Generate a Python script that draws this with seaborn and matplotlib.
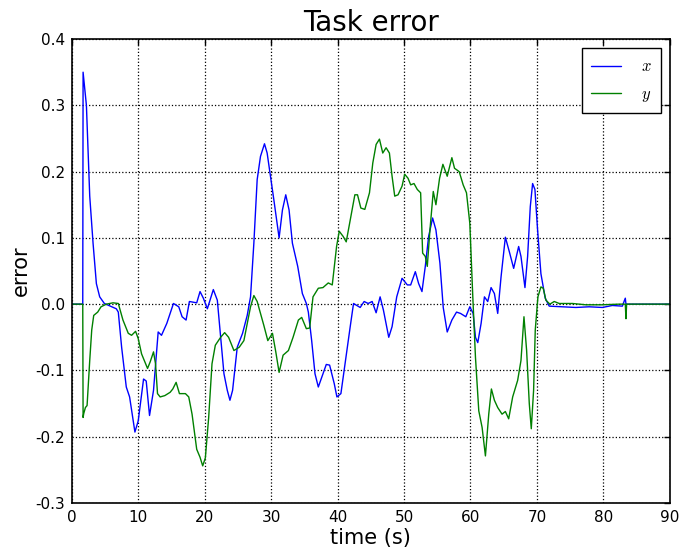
import numpy as np
import pandas as pd
import matplotlib
matplotlib.use("Agg")
import matplotlib.pyplot as plt
import seaborn as sns

# tempo (s) e erro da tarefa
t_x = [0, 1.65, 1.7, 2.2, 2.7, 3.2, 3.7, 4.2, 4.9, 6.7,
       7.0, 7.5, 8.2, 8.7, 9.5, 10.0, 10.8, 11.2, 11.7, 12.3,
       13.0, 13.5, 14.3, 15.3, 16.1, 16.6, 17.2, 17.7, 18.8, 19.3,
       19.8, 20.4, 21.3, 21.9, 22.9, 23.4, 23.8, 24.2, 24.9, 25.7,
       26.4, 26.9, 27.4, 27.9, 28.4, 29.0, 29.4, 29.9, 30.4, 31.2,
       31.7, 32.2, 32.7, 33.2, 34.0, 34.7, 35.3, 35.6, 36.1, 36.6,
       37.1, 37.7, 38.3, 38.8, 39.5, 39.9, 40.5, 41.4, 41.9, 42.4,
       43.4, 44.0, 44.6, 45.2, 45.8, 46.4, 46.9, 47.7, 48.2, 48.9,
       49.7, 50.5, 51.0, 51.7, 52.2, 52.7, 53.2, 53.7, 54.3, 54.8,
       55.4, 55.9, 56.5, 57.2, 57.9, 58.5, 59.3, 59.9, 60.4, 60.75,
       61.1, 61.6, 62.1, 62.6, 63.1, 63.6, 64.1, 64.6, 65.25, 65.85,
       66.5, 67.25, 67.6, 68.2, 68.6, 69.0, 69.35, 69.7, 70.1, 70.6,
       71.25, 71.85, 73.85, 75.85, 77.85, 79.85, 81.35, 82.85, 83.3, 83.4,
       83.5, 90]
err_x = [0, 0, 0.35, 0.30, 0.163, 0.092, 0.031, 0.011, 0.001, -0.007,
         -0.012, -0.065, -0.125, -0.14, -0.193, -0.176, -0.113, -0.116, -0.168, -0.13,
         -0.042, -0.047, -0.029, 0.001, -0.004, -0.019, -0.024, 0.004, 0.002, 0.019,
         0.009, -0.007, 0.022, 0.006, -0.105, -0.13, -0.145, -0.13, -0.065, -0.044,
         -0.017, 0.011, 0.092, 0.188, 0.223, 0.242, 0.228, 0.193, 0.158, 0.1,
         0.142, 0.165, 0.142, 0.092, 0.057, 0.016, 0.001, -0.012, -0.055, -0.105,
         -0.125, -0.108, -0.091, -0.092, -0.12, -0.14, -0.135, -0.07, -0.034, 0.001,
         -0.005, 0.004, 0.001, 0.004, -0.013, 0.011, -0.009, -0.05, -0.034, 0.011,
         0.039, 0.029, 0.029, 0.049, 0.031, 0.019, 0.057, 0.102, 0.13, 0.112,
         0.062, -0.005, -0.042, -0.024, -0.012, -0.014, -0.019, -0.004, -0.014, -0.05,
         -0.058, -0.029, 0.011, 0.004, 0.025, 0.016, -0.014, 0.041, 0.101, 0.079,
         0.054, 0.087, 0.072, 0.025, 0.072, 0.147, 0.182, 0.173, 0.112, 0.046,
         0.009, -0.003, -0.004, -0.005, -0.004, -0.005, -0.002, -0.003, 0.009, 0,
         0, 0]

t_y = [0, 1.65, 1.7, 1.8, 2.05, 2.3, 2.7, 3.0, 3.3, 3.9,
       4.4, 5.2, 6.2, 7.0, 7.7, 8.5, 9.0, 9.6, 10.0, 10.5,
       11.0, 11.4, 11.8, 12.3, 12.6, 12.9, 13.3, 14.0, 14.8, 15.2,
       15.7, 16.2, 17.1, 17.6, 18.1, 18.8, 19.3, 19.7, 20.1, 20.6,
       21.1, 21.6, 22.4, 23.0, 23.6, 24.4, 25.2, 25.9, 26.6, 26.9,
       27.4, 27.9, 28.4, 28.9, 29.5, 30.2, 30.7, 31.2, 31.8, 32.6,
       33.3, 34.1, 34.6, 35.3, 35.8, 36.3, 37.1, 37.8, 38.6, 39.2,
       39.85, 40.25, 40.85, 41.3, 41.9, 42.6, 43.0, 43.5, 44.1, 44.8,
       45.3, 45.8, 46.3, 46.8, 47.3, 47.8, 48.2, 48.6, 49.1, 49.7,
       50.1, 50.6, 51.0, 51.5, 52.0, 52.5, 52.8, 53.2, 53.5, 53.9,
       54.4, 54.8, 55.35, 55.85, 56.5, 57.2, 57.6, 58.3, 58.9, 59.4,
       59.9, 60.35, 60.75, 61.25, 61.75, 62.25, 62.75, 63.15, 63.6, 64.1,
       64.75, 65.25, 65.75, 66.35, 67.1, 67.6, 68.05, 68.45, 68.85, 69.15,
       69.5, 69.75, 70.15, 70.6, 70.95, 71.35, 71.95, 72.6, 73.35, 75.35,
       77.35, 79.85, 82.35, 83.3, 83.4, 83.5, 90]
err_y = [0, 0, -0.171, -0.165, -0.156, -0.153, -0.085, -0.039, -0.017, -0.012,
         -0.004, 0, 0.002, 0.001, -0.024, -0.044, -0.047, -0.041, -0.052, -0.075,
         -0.087, -0.097, -0.087, -0.072, -0.09, -0.135, -0.14, -0.138, -0.133, -0.128,
         -0.118, -0.135, -0.135, -0.14, -0.166, -0.219, -0.231, -0.244, -0.232, -0.171,
         -0.09, -0.062, -0.05, -0.043, -0.05, -0.07, -0.065, -0.055, -0.019, -0.004,
         0.013, 0.004, -0.014, -0.032, -0.055, -0.044, -0.072, -0.103, -0.077, -0.07,
         -0.05, -0.024, -0.02, -0.037, -0.036, 0.011, 0.024, 0.025, 0.032, 0.029,
         0.087, 0.11, 0.102, 0.094, 0.127, 0.165, 0.165, 0.145, 0.143, 0.168,
         0.213, 0.241, 0.249, 0.228, 0.236, 0.228, 0.193, 0.163, 0.165, 0.178,
         0.196, 0.19, 0.18, 0.182, 0.173, 0.168, 0.077, 0.072, 0.057, 0.112,
         0.17, 0.15, 0.19, 0.211, 0.193, 0.221, 0.205, 0.2, 0.18, 0.168,
         0.122, 0.011, -0.08, -0.161, -0.186, -0.229, -0.166, -0.128, -0.145, -0.156,
         -0.166, -0.162, -0.173, -0.14, -0.115, -0.085, -0.019, -0.07, -0.15, -0.188,
         -0.13, -0.039, 0.011, 0.026, 0.024, 0.006, 0.0, 0.004, 0.001, 0.001,
         -0.001, -0.001, 0.0, 0.0, -0.022, 0, 0]

assert len(t_x) == len(err_x) and len(t_y) == len(err_y)

sns.set_style("white")
plt.rcParams['font.family'] = ['DejaVu Sans']
plt.rcParams['mathtext.fontset'] = 'cm'
plt.rcParams['axes.unicode_minus'] = False
plt.rcParams['text.color'] = 'black'
plt.rcParams['axes.labelcolor'] = 'black'

fig = plt.figure(figsize=(6.97, 5.5), dpi=100)
ax = fig.add_axes([0.103, 0.0855, 0.858, 0.8435])

sns.lineplot(x=t_x, y=err_x, ax=ax, color="#0000ff", linewidth=1.0,
             estimator=None, label=r"$x$")
sns.lineplot(x=t_y, y=err_y, ax=ax, color="#008000", linewidth=1.0,
             estimator=None, label=r"$y$")

ax.set_xlim(0, 90)
ax.set_ylim(-0.3, 0.4)
ax.set_xticks(np.arange(0, 91, 10))
ax.set_yticks(np.arange(-0.3, 0.41, 0.1))
ax.set_yticklabels(["%.1f" % v for v in np.arange(-0.3, 0.41, 0.1)])

ax.grid(True, color="black", linestyle=":", linewidth=0.9)
ax.tick_params(direction="in", length=4, width=1, top=True, right=True,
               labelsize=11, pad=5, colors="black")
for s in ax.spines.values():
    s.set_color("black")
    s.set_linewidth(1.2)

ax.set_title("Task error", fontsize=20, pad=6, color="black")
ax.set_xlabel("time (s)", fontsize=15, labelpad=2)
ax.set_ylabel("error", fontsize=15, labelpad=3)

leg = ax.legend(loc="upper right", fontsize=12, fancybox=False, framealpha=1,
                edgecolor="black", handlelength=1.8, handletextpad=1.2,
                labelspacing=0.55, borderpad=0.55, borderaxespad=0.55)
leg.get_frame().set_linewidth(1.0)

fig.savefig("out.png", dpi=100)
